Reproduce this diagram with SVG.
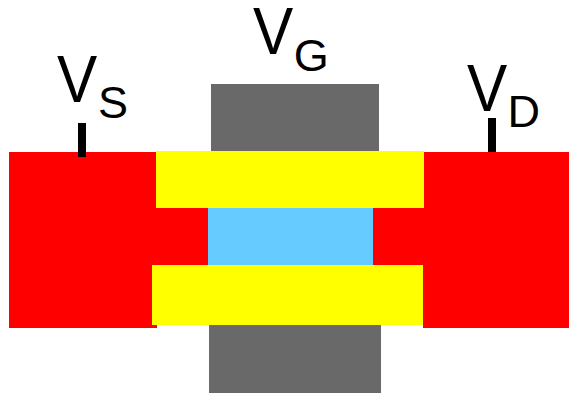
<svg xmlns="http://www.w3.org/2000/svg" width="569" height="394" viewBox="0 0 569 394">
<style>
.red{fill:#ff0000}.yel{fill:#ffff00}.gry{fill:#696969}.blu{fill:#66ccff}.tick{fill:#000}
.v{font-family:"Liberation Sans",Arial,sans-serif;font-size:67px;fill:#000}
.s{font-family:"Liberation Sans",Arial,sans-serif;font-size:45px;fill:#000}
</style>
<rect width="569" height="394" fill="#fff"/>
<g id="source"><rect class="red" x="9" y="152" width="148" height="176"/><rect class="red" x="157" y="208" width="51" height="57"/></g>
<g id="drain"><rect class="red" x="423" y="152" width="146" height="176"/><rect class="red" x="373" y="208" width="51" height="57"/></g>
<g id="gate-top"><rect class="gry" x="211" y="84" width="168" height="67"/></g>
<g id="gate-bottom"><rect class="gry" x="209" y="325" width="172" height="68"/></g>
<g id="oxide-top"><rect class="yel" x="156" y="151" width="268" height="57"/></g>
<g id="oxide-bottom"><rect class="yel" x="152" y="265" width="271" height="60"/></g>
<g id="channel"><rect class="blu" x="208" y="208" width="165" height="57"/></g>
<g id="connectors"><rect class="tick" x="78" y="123" width="8" height="34"/><rect class="tick" x="488" y="118" width="8" height="34"/></g>
<g id="label-vs"><text class="v" transform="translate(57 102) scale(.9 1)">V</text><text class="s" x="98" y="117.5">S</text></g>
<g id="label-vg"><text class="v" transform="translate(253 54) scale(.9 1)">V</text><text class="s" x="293.8" y="70.5">G</text></g>
<g id="label-vd"><text class="v" transform="translate(467 110.5) scale(.9 1)">V</text><text class="s" x="507.4" y="127">D</text></g>
</svg>
